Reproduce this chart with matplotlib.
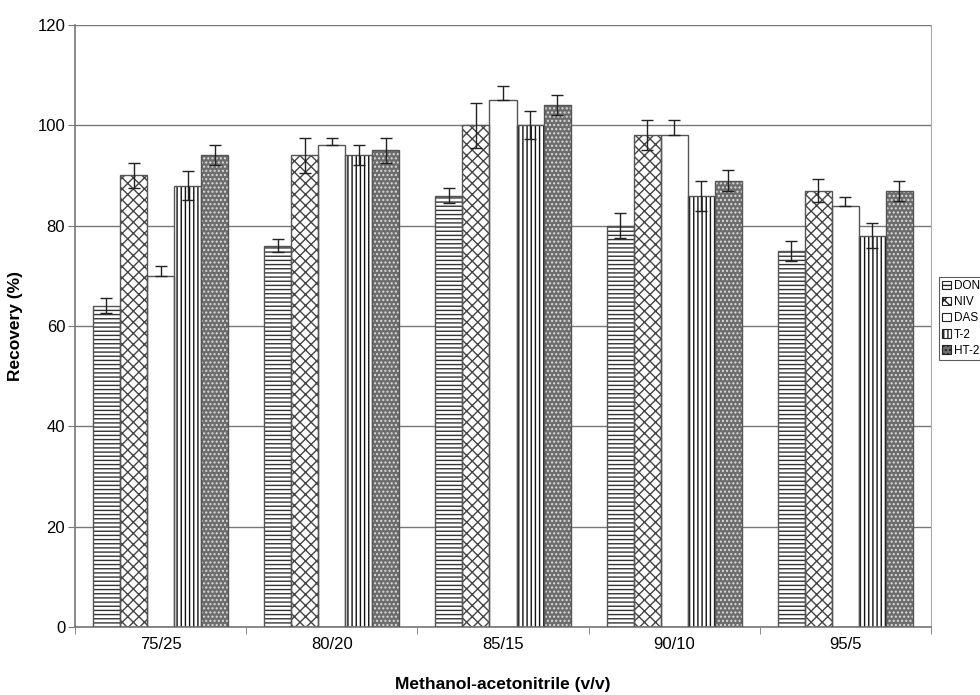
import matplotlib
matplotlib.use("Agg")
import matplotlib.pyplot as plt
import numpy as np
from matplotlib.patches import Patch

plt.rcParams['font.family'] = ['Liberation Sans', 'DejaVu Sans']
plt.rcParams['hatch.linewidth'] = 1.0

categories = ["75/25", "80/20", "85/15", "90/10", "95/5"]
series = ["DON", "NIV", "DAS", "T-2", "HT-2"]
don = [64, 76, 86, 80, 75]
niv = [90, 94, 100, 98, 87]
das = [70, 96, 105, 98, 84]
t2 = [88, 94, 100, 86, 78]
ht2 = [94, 95, 104, 89, 87]
don_err = [1.5, 1.3, 1.5, 2.5, 2.0]
niv_err = [2.5, 3.5, 4.5, 3.0, 2.3]
das_err = [2.0, 1.5, 2.8, 3.0, 1.8]
t2_err = [2.8, 2.0, 2.8, 3.0, 2.5]
ht2_err = [2.0, 2.5, 2.0, 2.0, 2.0]

values = [don, niv, das, t2, ht2]
errors = [don_err, niv_err, das_err, t2_err, ht2_err]

styles = [
    dict(facecolor="white", edgecolor="#333333", hatch="----"),
    dict(facecolor="white", edgecolor="#444444", hatch="xxx"),
    dict(facecolor="white", edgecolor="#555555", hatch=None),
    dict(facecolor="white", edgecolor="#111111", hatch="||||"),
    dict(facecolor="#6c6c6c", edgecolor="#dddddd", hatch="...."),
]

fig = plt.figure(figsize=(9.8, 6.95), dpi=100)
ax = fig.add_axes([0.0765, 0.098, 0.8735, 0.866])

x = np.arange(len(categories))
w = 0.158
offsets = (np.arange(5) - 2) * w

for i in range(5):
    st = styles[i]
    ax.bar(x + offsets[i], values[i], width=w, facecolor=st["facecolor"],
           edgecolor=st["edgecolor"], hatch=st["hatch"], linewidth=0, zorder=2)
    ax.bar(x + offsets[i], values[i], width=w, fill=False,
           edgecolor="#555555", linewidth=1.0, zorder=3)
    if series[i] == "DAS":
        yerr = [np.zeros(len(errors[i])), errors[i]]
    else:
        yerr = errors[i]
    ax.errorbar(x + offsets[i], values[i], yerr=yerr, fmt="none",
                ecolor="#222222", elinewidth=1.0, capsize=4, capthick=1.0, zorder=4)

ax.set_xlim(-0.5, 4.5)
ax.set_ylim(0, 120)
ax.set_yticks(np.arange(0, 121, 20))
ax.set_xticks(x)
ax.set_xticklabels(categories, fontsize=12)
ax.set_xticks(np.arange(-0.5, 5, 1), minor=True)
ax.tick_params(axis="x", which="major", length=0, pad=7)
ax.tick_params(axis="x", which="minor", length=5, color="#777777")
ax.tick_params(axis="y", labelsize=12, length=5, color="#777777", pad=2)
ax.yaxis.grid(True, color="#777777", linewidth=1.0, zorder=0)
ax.set_axisbelow(True)
for s in ["left", "bottom"]:
    ax.spines[s].set_color("#777777")
    ax.spines[s].set_linewidth(1.2)
ax.spines["right"].set_color("#aaaaaa")
ax.spines["top"].set_visible(False)

ax.set_ylabel("Recovery (%)", fontsize=12.5, fontweight="bold", labelpad=10)
ax.set_xlabel("Methanol-acetonitrile (v/v)", fontsize=12.5, fontweight="bold", labelpad=18)

handles = [Patch(facecolor=st["facecolor"], edgecolor="#222222", hatch=st["hatch"], linewidth=0.8)
           for st in styles]
leg = fig.legend(handles, series, loc="upper left", bbox_to_anchor=(0.958, 0.602),
                 fontsize=8.5, frameon=True, fancybox=False, edgecolor="#333333",
                 handlelength=0.7, handleheight=0.7, handletextpad=0.3,
                 labelspacing=0.35, borderpad=0.3, borderaxespad=0)
leg.get_frame().set_linewidth(0.8)

fig.savefig("out.png", dpi=100)
